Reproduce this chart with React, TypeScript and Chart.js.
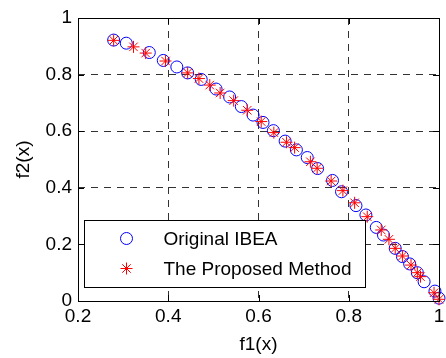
import React, { useEffect, useRef } from "react";
import { Chart, registerables } from "chart.js";

Chart.register(...registerables);

// Pareto front approximations (f1, f2) for the two algorithms
const ibeaF1 = [
  0.279, 0.307, 0.358, 0.389, 0.419, 0.443, 0.473, 0.506, 0.536, 0.562,
  0.588, 0.61, 0.633, 0.659, 0.684, 0.708, 0.731, 0.764, 0.784, 0.816,
  0.838, 0.861, 0.877, 0.903, 0.919, 0.935, 0.952, 0.967, 0.991, 1.0,
];
const ibeaF2 = [
  0.922, 0.911, 0.878, 0.85, 0.827, 0.806, 0.783, 0.749, 0.721, 0.687,
  0.657, 0.631, 0.602, 0.565, 0.534, 0.507, 0.468, 0.426, 0.386, 0.337,
  0.304, 0.26, 0.233, 0.186, 0.157, 0.131, 0.1, 0.068, 0.035, 0.01,
];
const proposedF1 = [
  0.279, 0.323, 0.35, 0.394, 0.443, 0.468, 0.492, 0.515, 0.545, 0.575,
  0.606, 0.634, 0.662, 0.68, 0.715, 0.73, 0.761, 0.787, 0.813, 0.841,
  0.872, 0.889, 0.903, 0.919, 0.938, 0.952, 0.959, 0.989, 1.0,
];
const proposedF2 = [
  0.921, 0.898, 0.876, 0.848, 0.806, 0.786, 0.763, 0.735, 0.708, 0.674,
  0.634, 0.595, 0.561, 0.542, 0.492, 0.469, 0.424, 0.39, 0.347, 0.298,
  0.251, 0.218, 0.186, 0.159, 0.127, 0.1, 0.086, 0.029, 0.006,
];

const xTicks = [0.2, 0.4, 0.6, 0.8, 1];
const yTicks = [0, 0.2, 0.4, 0.6, 0.8, 1];
const seriesNames = ["Original IBEA", "The Proposed Method"];
const xLabel = "f1(x)";
const yLabel = "f2(x)";

const FONT = "'Liberation Sans', Arial, Helvetica, sans-serif";
const FONT_SIZE = 19;
const BLUE = "#0000ff";
const RED = "#ff0000";

const fmt = (v: number) => (v === 0 ? "0" : v === 1 ? "1" : v.toFixed(1));

function drawMarker(ctx: CanvasRenderingContext2D, style: string, x: number, y: number, r: number, color: string) {
  ctx.save();
  ctx.strokeStyle = color;
  ctx.lineWidth = 1;
  ctx.beginPath();
  if (style === "circle") {
    ctx.arc(x, y, r, 0, Math.PI * 2);
  } else {
    const d = r * Math.SQRT1_2;
    ctx.moveTo(x - r, y); ctx.lineTo(x + r, y);
    ctx.moveTo(x, y - r); ctx.lineTo(x, y + r);
    ctx.moveTo(x - d, y - d); ctx.lineTo(x + d, y + d);
    ctx.moveTo(x - d, y + d); ctx.lineTo(x + d, y - d);
  }
  ctx.stroke();
  ctx.restore();
}

// Axes box with inward tick marks on all four sides
const framePlugin = {
  id: "frame",
  afterDatasetsDraw(chart: any) {
    const { ctx, chartArea } = chart;
    const { left, right, top, bottom } = chartArea;
    const xs = chart.scales.x;
    const ys = chart.scales.y;
    const tl = 6;
    ctx.save();
    ctx.strokeStyle = "#000";
    ctx.lineWidth = 1;
    ctx.beginPath();
    xTicks.forEach((v) => {
      const px = Math.round(xs.getPixelForValue(v)) + 0.5;
      ctx.moveTo(px, bottom); ctx.lineTo(px, bottom - tl);
      ctx.moveTo(px, top); ctx.lineTo(px, top + tl);
    });
    yTicks.forEach((v) => {
      const py = Math.round(ys.getPixelForValue(v)) + 0.5;
      ctx.moveTo(left, py); ctx.lineTo(left + tl, py);
      ctx.moveTo(right, py); ctx.lineTo(right - tl, py);
    });
    ctx.stroke();
    ctx.strokeRect(Math.round(left) + 0.5, Math.round(top) + 0.5, Math.round(right - left), Math.round(bottom - top));
    ctx.restore();
  },
};

// Boxed legend in the lower-left corner of the axes
const legendPlugin = {
  id: "boxLegend",
  afterDraw(chart: any) {
    const { ctx, chartArea } = chart;
    const bx = Math.round(chartArea.left) + 6.5;
    const bw = 281;
    const bh = 67;
    const by = Math.round(chartArea.bottom) - 14 - bh + 0.5;
    ctx.save();
    ctx.fillStyle = "#fff";
    ctx.fillRect(bx, by, bw, bh);
    ctx.strokeStyle = "#000";
    ctx.lineWidth = 1;
    ctx.strokeRect(bx, by, bw, bh);
    const styles = ["circle", "star"];
    const colors = [BLUE, RED];
    seriesNames.forEach((name, i) => {
      const cy = by + 18 + i * 30;
      drawMarker(ctx, styles[i], bx + 42, cy, 6, colors[i]);
      ctx.fillStyle = "#000";
      ctx.font = `${FONT_SIZE}px ${FONT}`;
      ctx.textBaseline = "middle";
      ctx.textAlign = "left";
      ctx.fillText(name, bx + 79, cy + 1);
    });
    ctx.restore();
  },
};

export default function App() {
  const ref = useRef<HTMLCanvasElement>(null);

  useEffect(() => {
    if (!ref.current) return;
    // hide the grid lines that would sit on the axes box edges
    const edgeColor = (lo: number, hi: number) => (c: any) => {
      const v = c.tick ? c.tick.value : NaN;
      return v === lo || v === hi ? "rgba(0,0,0,0)" : "#333333";
    };
    const chart = new Chart(ref.current, {
      type: "scatter",
      data: {
        datasets: [
          {
            label: seriesNames[0],
            data: ibeaF1.map((x, i) => ({ x, y: ibeaF2[i] })),
            pointStyle: "circle",
            pointRadius: 6,
            pointBorderWidth: 1,
            borderColor: BLUE,
            backgroundColor: "rgba(0,0,0,0)",
            showLine: false,
            clip: false as any,
            order: 2,
          },
          {
            label: seriesNames[1],
            data: proposedF1.map((x, i) => ({ x, y: proposedF2[i] })),
            pointStyle: "star",
            pointRadius: 6,
            pointBorderWidth: 1,
            borderColor: RED,
            backgroundColor: RED,
            showLine: false,
            clip: false as any,
            order: 1,
          },
        ],
      },
      options: {
        responsive: false,
        animation: false,
        devicePixelRatio: 1,
        layout: { padding: { top: 18, right: 1.5, left: 0, bottom: 0 } },
        plugins: {
          legend: { display: false },
          tooltip: { enabled: false },
        },
        scales: {
          x: {
            type: "linear",
            min: 0.2,
            max: 1,
            afterBuildTicks: (s: any) => {
              s.ticks = xTicks.map((value) => ({ value }));
            },
            afterFit: (s: any) => {
              s.height = 57;
              s.paddingLeft = 0;
              s.paddingRight = 0;
            },
            ticks: {
              autoSkip: false,
              maxRotation: 0,
              padding: 4,
              color: "#000",
              font: { family: FONT, size: FONT_SIZE },
              callback: (v: any) => fmt(Number(v)),
            },
            grid: { drawTicks: false, lineWidth: 1, color: edgeColor(0.2, 1) },
            border: { display: false, dash: [7, 6] },
            title: {
              display: true,
              text: xLabel,
              color: "#000",
              font: { family: FONT, size: FONT_SIZE },
              padding: { top: 0, bottom: 2 },
            },
          },
          y: {
            type: "linear",
            min: 0,
            max: 1,
            afterBuildTicks: (s: any) => {
              s.ticks = yTicks.map((value) => ({ value }));
            },
            afterFit: (s: any) => {
              s.width = 78;
            },
            ticks: {
              autoSkip: false,
              padding: 6,
              color: "#000",
              font: { family: FONT, size: FONT_SIZE },
              callback: (v: any) => fmt(Number(v)),
            },
            grid: { drawTicks: false, lineWidth: 1, color: edgeColor(0, 1) },
            border: { display: false, dash: [7, 6] },
            title: {
              display: true,
              text: yLabel,
              color: "#000",
              font: { family: FONT, size: FONT_SIZE },
              padding: { top: 12, bottom: 0 },
            },
          },
        },
      },
      plugins: [framePlugin, legendPlugin],
    });
    return () => chart.destroy();
  }, []);

  return (
    <div style={{ position: "absolute", left: 0, top: 0, width: 446, height: 358, background: "#fff" }}>
      <canvas ref={ref} width={446} height={358} style={{ display: "block" }} />
    </div>
  );
}
